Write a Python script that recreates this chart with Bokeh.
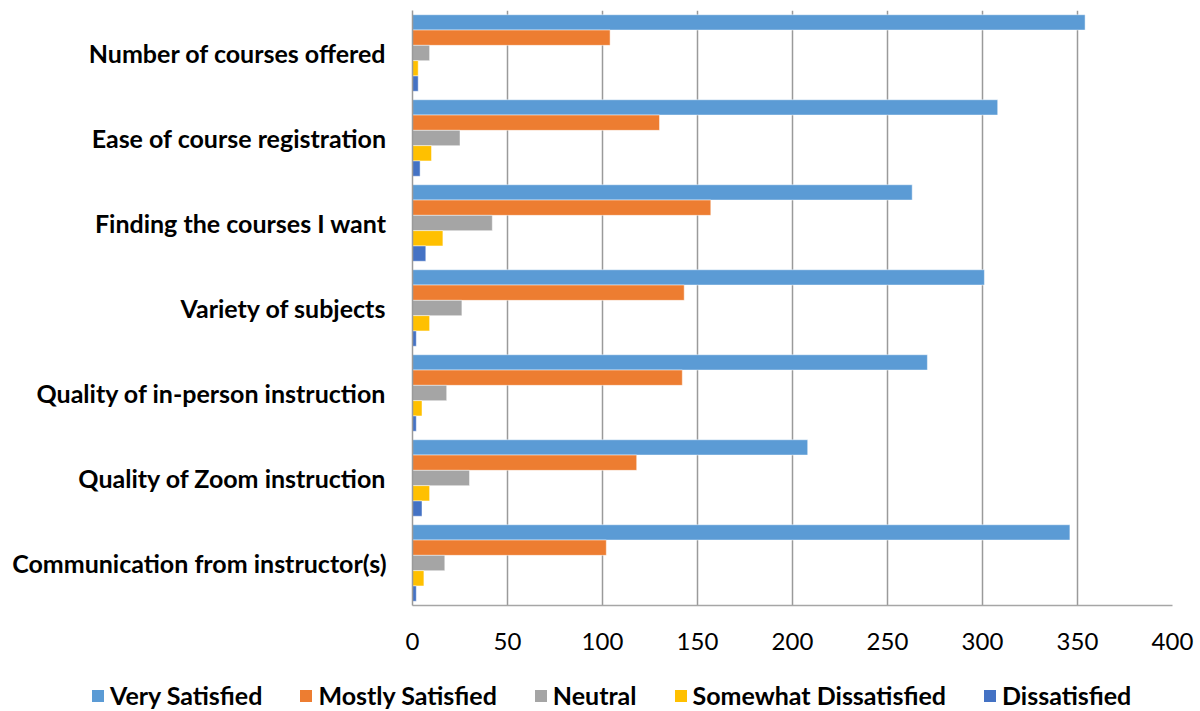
from bokeh.plotting import figure
from bokeh.models import FactorRange, Range1d, Legend, LegendItem, FixedTicker
from bokeh.layouts import column, row
from bokeh.transform import dodge
from bokeh.embed import file_html
from bokeh.resources import INLINE

categories = [
    "Number of courses offered",
    "Ease of course registration",
    "Finding the courses I want",
    "Variety of subjects",
    "Quality of in-person instruction",
    "Quality of Zoom instruction",
    "Communication from instructor(s)",
]
very_satisfied = [354, 308, 263, 301, 271, 208, 346]
mostly_satisfied = [104, 130, 157, 143, 142, 118, 102]
neutral = [9, 25, 42, 26, 18, 30, 17]
somewhat_dissatisfied = [3, 10, 16, 9, 5, 9, 6]
dissatisfied = [3, 4, 7, 2, 2, 5, 2]
x_ticks = [0, 50, 100, 150, 200, 250, 300, 350, 400]

series_names = ["Very Satisfied", "Mostly Satisfied", "Neutral", "Somewhat Dissatisfied", "Dissatisfied"]
series_values = [very_satisfied, mostly_satisfied, neutral, somewhat_dissatisfied, dissatisfied]
colors = ["#5B9BD5", "#ED7D31", "#A5A5A5", "#FFC000", "#4472C4"]
offsets = [0.36, 0.18, 0.0, -0.18, -0.36]

FONT = "Lato"
FS = "24px"

p = figure(
    width=1200, height=660,
    y_range=FactorRange(*list(reversed(categories)), range_padding=0),
    x_range=Range1d(0, 400),
    output_backend="svg", toolbar_location=None,
    min_border_left=412, min_border_right=28, min_border_top=10, min_border_bottom=55,
)

data = {"cat": categories}
for name, vals in zip(series_names, series_values):
    data[name] = vals

for name, col, off in zip(series_names, colors, offsets):
    p.hbar(y=dodge("cat", off, range=p.y_range), right=name, left=0, height=0.18,
           source=data, fill_color=col, line_color="white", line_alpha=0.6, line_width=0.8)

p.outline_line_color = None
p.ygrid.grid_line_color = None
p.xgrid.grid_line_color = "#9a9a9a"
p.xgrid.grid_line_width = 1.5
p.xaxis.ticker = FixedTicker(ticks=x_ticks)

p.xaxis.axis_line_color = "#a6a6a6"
p.xaxis.axis_line_width = 1.5
p.xaxis.major_tick_line_color = None
p.xaxis.minor_tick_line_color = None
p.xaxis.major_label_text_font = FONT
p.xaxis.major_label_text_font_size = FS
p.xaxis.major_label_text_color = "black"
p.xaxis.major_label_standoff = 21

p.yaxis.axis_line_color = "#9a9a9a"
p.yaxis.axis_line_width = 1.5
p.yaxis.major_tick_line_color = None
p.yaxis.minor_tick_line_color = None
p.yaxis.major_label_text_font = FONT
p.yaxis.major_label_text_font_size = "25px"
p.yaxis.major_label_text_font_style = "bold"
p.yaxis.major_label_text_color = "black"
p.yaxis.major_label_standoff = 20

# legend strip below the chart (its proxy bars lie outside its visible range)
lg = figure(
    width=1200, height=51, output_backend="svg", toolbar_location=None,
    x_range=Range1d(-2, -1), y_range=FactorRange(*categories),
    x_axis_type=None, y_axis_type=None, min_border=0,
)
lg.outline_line_color = None
lg.xgrid.visible = False
lg.ygrid.visible = False
swatches = []
for name, col in zip(series_names, colors):
    swatches.append(lg.hbar(y="cat", right=name, left=0, height=0.5, source=data,
                            fill_color=col, line_color=None))

legend = Legend(
    items=[LegendItem(label=n, renderers=[r]) for n, r in zip(series_names, swatches)],
    orientation="horizontal",
    location=(90, 1),
    glyph_width=15, glyph_height=15,
    label_standoff=5, spacing=36,
    padding=0, margin=0,
    border_line_color=None, background_fill_alpha=0,
    label_text_font=FONT, label_text_font_size="25px", label_text_font_style="bold",
    label_text_color="black",
)
lg.add_layout(legend, "center")

layout = column(row(p), row(lg), spacing=0)
open("out.html", "w").write(file_html(layout, INLINE))
